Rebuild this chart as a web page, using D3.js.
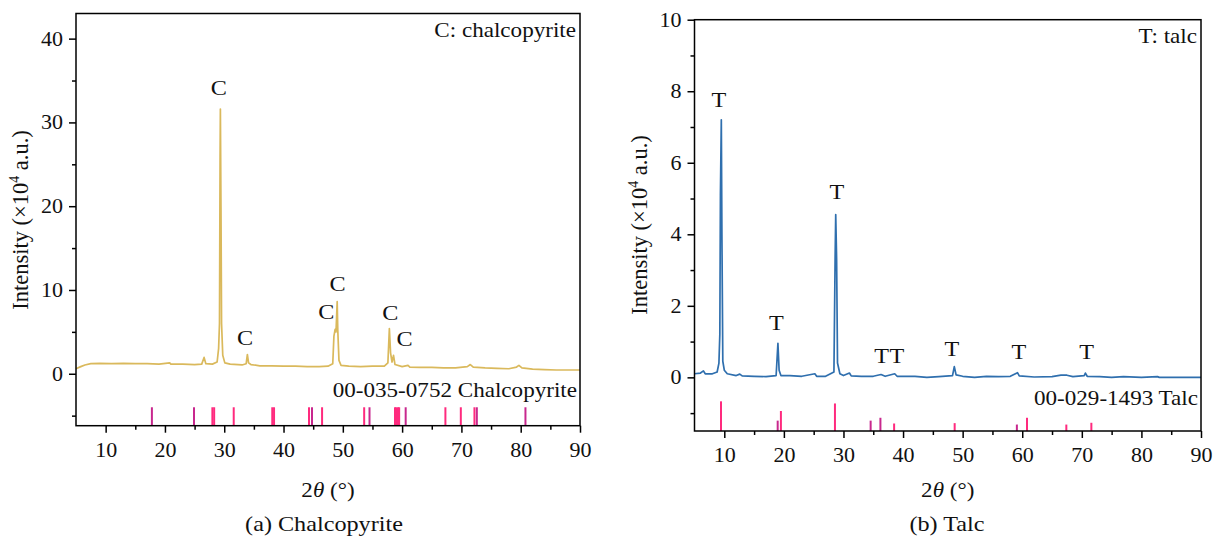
<!DOCTYPE html>
<html lang="en">
<head>
<meta charset="utf-8">
<title>XRD patterns</title>
<script src="https://cdn.jsdelivr.net/npm/d3@7"></script>
<style>
  body { margin: 0; background: #fff; }
  svg text { font-family: "Liberation Serif", "Times New Roman", serif; fill: #111; }
  .axis path { display: none; }
  .axis line { stroke: #000; stroke-width: 1.5px; }
</style>
</head>
<body>
<div id="chart"></div>
<script>
// ---- data ----
// (a) chalcopyrite pattern: [2theta, intensity x10^4]
const chalcoTheta = [5, 5.8, 6.5, 7.5, 9, 11, 13, 15, 17, 19, 20.8, 21, 23, 25, 26.2, 26.6, 26.9, 28, 28.8, 29.05, 29.2, 29.3, 29.35, 29.45, 29.55, 29.75, 30.1, 31, 33, 33.7, 33.9, 34.1, 34.5, 36, 38, 40, 42, 44, 46, 47.5, 48.3, 48.5, 48.7, 48.85, 49.05, 49.15, 49.35, 49.7, 51, 53, 55, 57, 57.6, 57.85, 58.05, 58.3, 58.55, 58.8, 60, 61, 61.3, 63, 65, 67, 69, 71, 71.5, 72, 74, 76, 78, 79.3, 79.7, 80.2, 82, 84, 86, 88, 90];
const chalcoInt = [0.6, 0.85, 1.05, 1.2, 1.25, 1.2, 1.25, 1.2, 1.2, 1.15, 1.3, 1.15, 1.15, 1.1, 1.15, 1.95, 1.2, 1.15, 1.4, 3, 6, 26, 31.6, 20, 6, 2.2, 1.3, 1.15, 1.05, 1.2, 2.3, 1.3, 1.1, 0.95, 0.95, 0.9, 0.9, 0.85, 0.85, 0.9, 1.2, 4.5, 5.3, 5, 8.6, 5.2, 1.6, 1.0, 0.9, 0.85, 0.9, 0.9, 1.3, 5.4, 2.5, 1.4, 2.2, 1.1, 0.85, 1.0, 0.8, 0.75, 0.75, 0.7, 0.7, 0.85, 1.1, 0.8, 0.7, 0.65, 0.6, 0.8, 1.0, 0.7, 0.55, 0.5, 0.45, 0.45, 0.45];
// peak letters: 2theta and height (x10^4) where the letter sits
const chalcoLabelTheta = [29.1, 33.5, 47.2, 49.1, 58.0, 60.4];
const chalcoLabelAt = [33.3, 3.44, 6.54, 9.88, 6.42, 3.32];
const chalcoSticks = [17.8, 24.9, 28.0, 28.3, 31.6, 38.1, 38.4, 44.3, 44.8, 46.5, 53.6, 54.5, 58.8, 59.0, 59.3, 59.5, 60.6, 67.3, 69.9, 72.2, 72.6, 80.8];
const chalcoStickDark = [17.8, 24.9, 44.8, 54.5, 60.6, 72.6, 80.8];

// (b) talc pattern
const talcTheta = [5, 6, 6.5, 6.8, 8, 8.8, 9.1, 9.25, 9.35, 9.5, 9.6, 9.75, 10, 10.5, 12, 12.6, 13, 15, 17, 18.7, 19.0, 19.2, 19.5, 21, 23, 25.2, 25.5, 27, 28.4, 28.6, 28.7, 28.85, 29.0, 29.4, 30, 31, 31.3, 33, 35, 36.3, 37, 38.6, 39, 42, 44, 46, 48.3, 48.6, 48.9, 50, 52, 54, 56, 58, 59.2, 59.5, 62, 65, 66.5, 67.5, 68.5, 70.4, 70.6, 70.9, 73, 75, 77, 80, 82.7, 83, 86, 90];
const talcInt = [0.1, 0.12, 0.18, 0.1, 0.1, 0.15, 0.4, 1.2, 5.1, 7.2, 4, 0.45, 0.2, 0.1, 0.05, 0.09, 0.04, 0.03, 0.02, 0.05, 0.95, 0.2, 0.05, 0.05, 0.03, 0.1, 0.03, 0.03, 0.15, 3.35, 4.55, 3.3, 0.4, 0.1, 0.05, 0.12, 0.04, 0.03, 0.03, 0.08, 0.03, 0.1, 0.03, 0.03, 0.0, 0.02, 0.05, 0.3, 0.07, 0.03, 0.0, 0.03, 0.02, 0.03, 0.13, 0.04, 0.01, 0.02, 0.06, 0.06, 0.02, 0.05, 0.12, 0.03, 0.02, 0.0, 0.02, 0, 0.02, 0, 0, 0];
const talcLabelTheta = [9.1, 18.76, 28.9, 36.4, 38.98, 48.2, 59.45, 70.8];
const talcLabelAt = [7.55, 1.31, 4.99, 0.4, 0.4, 0.59, 0.5, 0.5];
const talcSticks = [9.45, 18.96, 19.5, 28.57, 34.56, 36.2, 38.5, 48.66, 59.1, 60.8, 67.4, 71.6];
const talcStickInt = [-0.67, -1.21, -0.94, -0.73, -1.21, -1.13, -1.29, -1.28, -1.32, -1.13, -1.32, -1.27];
const talcStickDark = [18.96, 34.56, 36.2, 59.1];

const xTicks = [10, 20, 30, 40, 50, 60, 70, 80, 90];

const W = 1214, H = 538;
const SX = 1.1; // the figure is slightly stretched sideways
const svg = d3.select('#chart').append('svg').attr('width', W).attr('height', H);

function addText(g, x, y, str, size, anchor) {
  return g.append('text')
    .attr('transform', `translate(${x},${y}) scale(${SX},1)`)
    .attr('text-anchor', anchor || 'middle')
    .attr('font-size', size)
    .text(str);
}

function panel(opt) {
  const x = d3.scaleLinear().domain([5, 90]).range([opt.left, opt.right]);
  const y = d3.scaleLinear().domain(opt.yDomain).range([opt.bottom, opt.top]);
  const g = svg.append('g');

  // minor ticks
  g.append('g').attr('class', 'axis').attr('transform', `translate(0,${opt.bottom})`)
    .call(d3.axisBottom(x).tickValues(d3.range(15, 90, 10)).tickSize(4).tickFormat(''));
  g.append('g').attr('class', 'axis').attr('transform', `translate(${opt.left},0)`)
    .call(d3.axisLeft(y).tickValues(opt.yMinor).tickSize(4).tickFormat(''));

  // major ticks
  const xa = g.append('g').attr('class', 'axis').attr('transform', `translate(0,${opt.bottom})`)
    .call(d3.axisBottom(x).tickValues(xTicks).tickSize(7).tickPadding(10));
  xa.selectAll('text').attr('font-size', 20).attr('transform', `scale(${SX},1)`);
  const ya = g.append('g').attr('class', 'axis').attr('transform', `translate(${opt.left},0)`)
    .call(d3.axisLeft(y).tickValues(opt.yMajor).tickSize(7).tickPadding(6));
  ya.selectAll('text').attr('font-size', 20).attr('x', -13 / SX).attr('transform', `scale(${SX},1)`);

  // reference sticks
  g.selectAll('line.stick').data(opt.sticks).enter().append('line')
    .attr('x1', d => x(d[0])).attr('x2', d => x(d[0]))
    .attr('y1', d => y(d[1])).attr('y2', opt.bottom)
    .attr('stroke', d => opt.dark.includes(d[0]) ? '#c8288e' : '#ff2a7e')
    .attr('stroke-width', 2);

  // pattern
  const line = d3.line().x(d => x(d[0])).y(d => y(d[1]));
  g.append('path').datum(opt.curve)
    .attr('d', line).attr('fill', 'none')
    .attr('stroke', opt.color).attr('stroke-width', 1.7).attr('stroke-linejoin', 'round');

  // frame
  g.append('rect').attr('x', opt.left).attr('y', opt.top)
    .attr('width', opt.right - opt.left).attr('height', opt.bottom - opt.top)
    .attr('fill', 'none').attr('stroke', '#000').attr('stroke-width', 1.5);

  // peak letters
  opt.labels.forEach(d => addText(g, x(d[0]), y(d[1]), opt.letter, 22));

  addText(g, opt.right - 4, opt.top + 23, opt.legend, 21, 'end');
  addText(g, opt.right - 3, opt.refY, opt.refName, 21, 'end');

  // axis titles
  const cx = (opt.left + opt.right) / 2;
  const t = g.append('text')
    .attr('transform', `translate(${cx},497) scale(${SX},1)`)
    .attr('text-anchor', 'middle').attr('font-size', 21);
  t.append('tspan').text('2');
  t.append('tspan').attr('font-style', 'italic').text('θ');
  t.append('tspan').text(' (°)');

  const yl = g.append('text')
    .attr('transform', `translate(${opt.yTitleX},${opt.yTitleY}) rotate(-90)`)
    .attr('text-anchor', 'middle').attr('font-size', 22.5);
  yl.append('tspan').text('Intensity (×10');
  yl.append('tspan').attr('font-size', 14).attr('dy', -9).text('4');
  yl.append('tspan').attr('dy', 9).text(' a.u.)');

  addText(g, opt.captionX, 531, opt.caption, 22);
}

panel({
  left: 76, right: 580, top: 13.5, bottom: 425.7,
  yDomain: [-6.2, 43], yMajor: [0, 10, 20, 30, 40], yMinor: [-5, 5, 15, 25, 35],
  curve: chalcoTheta.map((t, i) => [t, chalcoInt[i]]),
  color: '#dab95c',
  sticks: chalcoSticks.map(s => [s, -4]), dark: chalcoStickDark,
  labels: chalcoLabelTheta.map((p, i) => [p, chalcoLabelAt[i]]),
  letter: 'C', legend: 'C: chalcopyrite', refName: '00-035-0752 Chalcopyrite', refY: 397,
  yTitleX: 28, yTitleY: 220, caption: '(a) Chalcopyrite', captionX: 324
});

panel({
  left: 694.5, right: 1201, top: 19.7, bottom: 431,
  yDomain: [-1.5, 10], yMajor: [0, 2, 4, 6, 8, 10], yMinor: [-1, 1, 3, 5, 7, 9],
  curve: talcTheta.map((t, i) => [t, talcInt[i]]),
  color: '#2f6fae',
  sticks: talcSticks.map((s, i) => [s, talcStickInt[i]]), dark: talcStickDark,
  labels: talcLabelTheta.map((p, i) => [p, talcLabelAt[i]]),
  letter: 'T', legend: 'T: talc', refName: '00-029-1493 Talc', refY: 405,
  yTitleX: 647, yTitleY: 225, caption: '(b) Talc', captionX: 947
});
</script>
</body>
</html>
